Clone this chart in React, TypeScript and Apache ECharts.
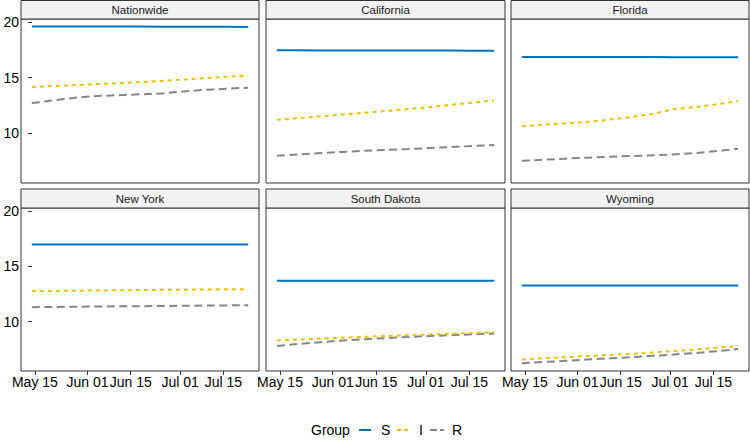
import React, { useEffect, useRef } from "react";
import * as echarts from "echarts";

// days since May 14
const days = [0, 7, 14, 21, 28, 35, 42, 49, 56, 63, 70];
const tickDays = [1, 18, 32, 48, 62];
const tickLabels = ["May 15", "Jun 01", "Jun 15", "Jul 01", "Jul 15"];
const yTicks = [10, 15, 20];

const regions = ["Nationwide", "California", "Florida", "New York", "South Dakota", "Wyoming"];
const groups = ["S", "I", "R"];

const nationwideS = [19.6, 19.6, 19.6, 19.59, 19.59, 19.59, 19.58, 19.58, 19.57, 19.57, 19.56];
const nationwideI = [14.16, 14.25, 14.33, 14.42, 14.5, 14.6, 14.7, 14.82, 14.95, 15.08, 15.2];
const nationwideR = [12.71, 12.95, 13.2, 13.35, 13.42, 13.5, 13.58, 13.75, 13.9, 14.0, 14.1];

const californiaS = [17.46, 17.46, 17.45, 17.45, 17.44, 17.44, 17.44, 17.43, 17.43, 17.42, 17.42];
const californiaI = [11.21, 11.36, 11.52, 11.68, 11.84, 12.0, 12.17, 12.35, 12.55, 12.75, 12.95];
const californiaR = [7.99, 8.1, 8.22, 8.32, 8.42, 8.5, 8.58, 8.67, 8.76, 8.86, 8.95];

const floridaS = [16.86, 16.86, 16.86, 16.85, 16.85, 16.85, 16.85, 16.84, 16.84, 16.84, 16.83];
const floridaI = [10.63, 10.78, 10.9, 11.02, 11.22, 11.45, 11.72, 12.15, 12.35, 12.6, 12.89];
const floridaR = [7.53, 7.62, 7.72, 7.8, 7.88, 7.95, 8.02, 8.1, 8.22, 8.4, 8.59];

const newYorkS = [16.96, 16.96, 16.96, 16.96, 16.96, 16.96, 16.96, 16.96, 16.96, 16.96, 16.96];
const newYorkI = [12.75, 12.77, 12.79, 12.81, 12.83, 12.85, 12.87, 12.88, 12.9, 12.92, 12.93];
const newYorkR = [11.3, 11.32, 11.34, 11.36, 11.38, 11.39, 11.41, 11.43, 11.45, 11.46, 11.48];

const southDakotaS = [13.68, 13.68, 13.68, 13.68, 13.68, 13.68, 13.68, 13.68, 13.68, 13.68, 13.68];
const southDakotaI = [8.29, 8.38, 8.46, 8.54, 8.62, 8.69, 8.76, 8.83, 8.9, 8.97, 9.04];
const southDakotaR = [7.8, 7.98, 8.14, 8.28, 8.4, 8.5, 8.6, 8.69, 8.77, 8.85, 8.92];

const wyomingS = [13.26, 13.26, 13.26, 13.26, 13.26, 13.26, 13.26, 13.26, 13.26, 13.26, 13.26];
const wyomingI = [6.58, 6.68, 6.78, 6.88, 6.98, 7.08, 7.2, 7.33, 7.47, 7.63, 7.8];
const wyomingR = [6.24, 6.34, 6.45, 6.56, 6.67, 6.78, 6.9, 7.02, 7.15, 7.32, 7.51];

const panelData = [
  [nationwideS, nationwideI, nationwideR],
  [californiaS, californiaI, californiaR],
  [floridaS, floridaI, floridaR],
  [newYorkS, newYorkI, newYorkR],
  [southDakotaS, southDakotaI, southDakotaR],
  [wyomingS, wyomingI, wyomingR],
];

const colors: Record<string, string> = { S: "#0073C2", I: "#EFC000", R: "#868686" };
const dashes: Record<string, any> = { S: "solid", I: [4, 4], R: [8, 4.5] };

const FONT = "Liberation Sans, Arial, Helvetica, sans-serif";

export default function App() {
  const ref = useRef<HTMLDivElement>(null);
  useEffect(() => {
    if (!ref.current) return;
    const chart = echarts.init(ref.current, null, { renderer: "svg" });
    const colLeft = [21, 266, 511];
    const colWidth = [238, 239, 238];
    const rowTop = [19, 208];
    const rowHeight = [164, 163];
    const stripTop = [0.5, 189];

    const grids: any[] = [];
    const xAxes: any[] = [];
    const yAxes: any[] = [];
    const series: any[] = [];
    const graphics: any[] = [];

    regions.forEach((name, i) => {
      const r = Math.floor(i / 3);
      const c = i % 3;
      grids.push({
        left: colLeft[c],
        top: rowTop[r],
        width: colWidth[c],
        height: rowHeight[r],
        show: true,
        borderColor: "#333333",
        borderWidth: 1,
        backgroundColor: "#ffffff",
        containLabel: false,
      });
      xAxes.push({
        type: "value",
        gridIndex: i,
        min: -3.5,
        max: 73.5,
        axisLine: { show: false },
        splitLine: { show: false },
        axisTick: {
          show: r === 1,
          customValues: tickDays,
          length: 4,
          lineStyle: { color: "#333333" },
        },
        axisLabel: {
          show: r === 1,
          customValues: tickDays,
          margin: 4,
          color: "#000000",
          fontSize: 14,
          fontFamily: FONT,
          formatter: (v: number) => {
            const k = tickDays.indexOf(Math.round(v));
            return k >= 0 ? tickLabels[k] : "";
          },
        },
      });
      yAxes.push({
        type: "value",
        gridIndex: i,
        min: 5.53,
        max: 20.27,
        axisLine: { show: false },
        splitLine: { show: false },
        axisTick: {
          show: c === 0,
          customValues: yTicks,
          length: 4,
          lineStyle: { color: "#333333" },
        },
        axisLabel: {
          show: c === 0,
          customValues: yTicks,
          margin: 2,
          color: "#000000",
          fontSize: 14,
          fontFamily: FONT,
        },
      });
      groups.forEach((g, gi) => {
        series.push({
          type: "line",
          name: g,
          xAxisIndex: i,
          yAxisIndex: i,
          symbol: "none",
          showSymbol: false,
          data: days.map((d, k) => [d, panelData[i][gi][k]]),
          lineStyle: {
            color: colors[g],
            width: 2,
            type: dashes[g],
          },
          itemStyle: { color: colors[g] },
          z: 3 - gi,
        });
      });
      graphics.push({
        type: "rect",
        shape: {
          x: colLeft[c],
          y: stripTop[r],
          width: colWidth[c],
          height: rowTop[r] - stripTop[r],
        },
        style: { fill: "#F2F2F2", stroke: "#333333", lineWidth: 1 },
        z: 10,
      });
      graphics.push({
        type: "text",
        x: colLeft[c] + colWidth[c] / 2,
        y: (stripTop[r] + rowTop[r]) / 2 + 0.5,
        style: {
          text: name,
          fill: "#1A1A1A",
          font: `11.5px ${FONT}`,
          textAlign: "center",
          textVerticalAlign: "middle",
        },
        z: 11,
      });
    });

    // legend
    const legendY = 430;
    graphics.push({
      type: "text",
      x: 311,
      y: legendY,
      style: {
        text: "Group",
        fill: "#000000",
        font: `14px ${FONT}`,
        textAlign: "left",
        textVerticalAlign: "middle",
      },
    });
    const keyStart = [359, 397, 430];
    const keyLen = [12, 12, 14];
    const keyText = [381, 419, 452];
    groups.forEach((g, gi) => {
      graphics.push({
        type: "line",
        shape: { x1: keyStart[gi], y1: legendY, x2: keyStart[gi] + keyLen[gi], y2: legendY },
        style: {
          stroke: colors[g],
          lineWidth: 2,
          lineDash: gi === 0 ? null : gi === 1 ? [4, 3] : [7, 3],
        },
      });
      graphics.push({
        type: "text",
        x: keyText[gi],
        y: legendY,
        style: {
          text: g,
          fill: "#000000",
          font: `14px ${FONT}`,
          textAlign: "left",
          textVerticalAlign: "middle",
        },
      });
    });

    chart.setOption({
      animation: false,
      backgroundColor: "#ffffff",
      grid: grids,
      xAxis: xAxes,
      yAxis: yAxes,
      series,
      graphic: graphics,
    });
    return () => chart.dispose();
  }, []);
  return (
    <div
      ref={ref}
      style={{ position: "fixed", left: 0, top: 0, width: 750, height: 443, background: "#fff" }}
    />
  );
}
